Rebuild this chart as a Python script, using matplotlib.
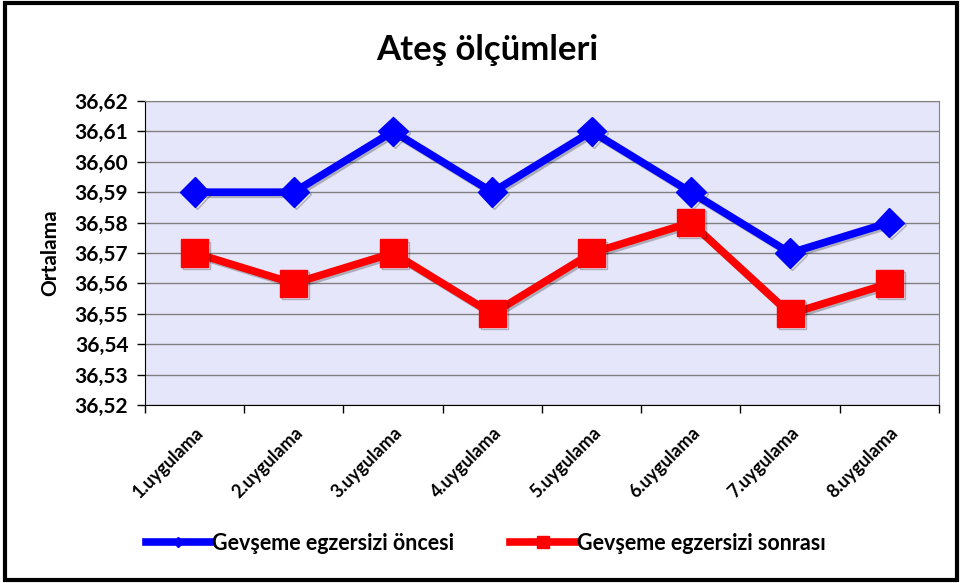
import numpy as np
import matplotlib.pyplot as plt
import matplotlib.patheffects as pe
from matplotlib.lines import Line2D
from matplotlib.patches import Rectangle
from matplotlib.ticker import FuncFormatter

plt.rcParams['font.family'] = ['Lato', 'DejaVu Sans']
plt.rcParams['font.weight'] = 'bold'
plt.rcParams['axes.labelweight'] = 'bold'

categories = ['1.uygulama', '2.uygulama', '3.uygulama', '4.uygulama',
              '5.uygulama', '6.uygulama', '7.uygulama', '8.uygulama']
before = [36.59, 36.59, 36.61, 36.59, 36.61, 36.59, 36.57, 36.58]
after = [36.57, 36.56, 36.57, 36.55, 36.57, 36.58, 36.55, 36.56]
series_names = ['Gevşeme egzersizi öncesi', 'Gevşeme egzersizi sonrası']

fig = plt.figure(figsize=(9.62, 5.83), dpi=100)
ax = fig.add_axes([0.1507, 0.3053, 0.8254, 0.5215])
ax.set_facecolor('#E6E6FA')

x = np.arange(len(categories))
shadow = [pe.SimpleLineShadow(offset=(1.5, -1.5), alpha=0.25), pe.Normal()]
ax.plot(x, before, color='#0000FF', lw=5.5, marker='D', ms=15,
        solid_joinstyle='miter', zorder=3, path_effects=shadow)
ax.plot(x, after, color='#FF0000', lw=5.5, marker='s', ms=19.5,
        solid_joinstyle='miter', zorder=3, path_effects=shadow)

ax.set_ylim(36.52, 36.62)
ax.set_yticks(np.round(np.arange(36.52, 36.6201, 0.01), 2))
ax.yaxis.set_major_formatter(FuncFormatter(lambda v, p: f'{v:.2f}'.replace('.', ',')))
ax.grid(axis='y', color='#808080', lw=1)
ax.set_axisbelow(True)

ax.set_xlim(-0.5, len(categories) - 0.5)
ax.set_xticks(x)
ax.set_xticklabels(categories, rotation=45, ha='right', rotation_mode='anchor')
ax.set_xticks(np.arange(-0.5, len(categories)), minor=True)
ax.tick_params(axis='x', which='major', length=0, pad=14, labelsize=13)
ax.tick_params(axis='x', which='minor', length=6, width=1, color='black')
ax.tick_params(axis='y', length=6, width=1, labelsize=15, pad=6)

for s in ax.spines.values():
    s.set_color('#808080')
ax.spines['left'].set_color('black')
ax.spines['bottom'].set_color('black')

ax.set_ylabel('Ortalama', fontsize=15, labelpad=10)
fig.text(0.506, 0.915, 'Ateş ölçümleri', ha='center', va='center',
         fontsize=25, fontweight='bold')

handles = [Line2D([], [], color='#0000FF', lw=5.5, marker='D', ms=5),
           Line2D([], [], color='#FF0000', lw=5.5, marker='s', ms=9)]
fig.legend(handles, series_names, loc='center', bbox_to_anchor=(0.505, 0.068),
           ncol=2, frameon=False, handlelength=3.0,
           handletextpad=0.1, columnspacing=2.6,
           prop={'weight': 'bold', 'size': 15.5})

fig.patches.append(Rectangle((0.005, 0.006), 0.99, 0.988, transform=fig.transFigure,
                             fill=False, edgecolor='black', lw=3))

fig.savefig('out.png', dpi=100)
